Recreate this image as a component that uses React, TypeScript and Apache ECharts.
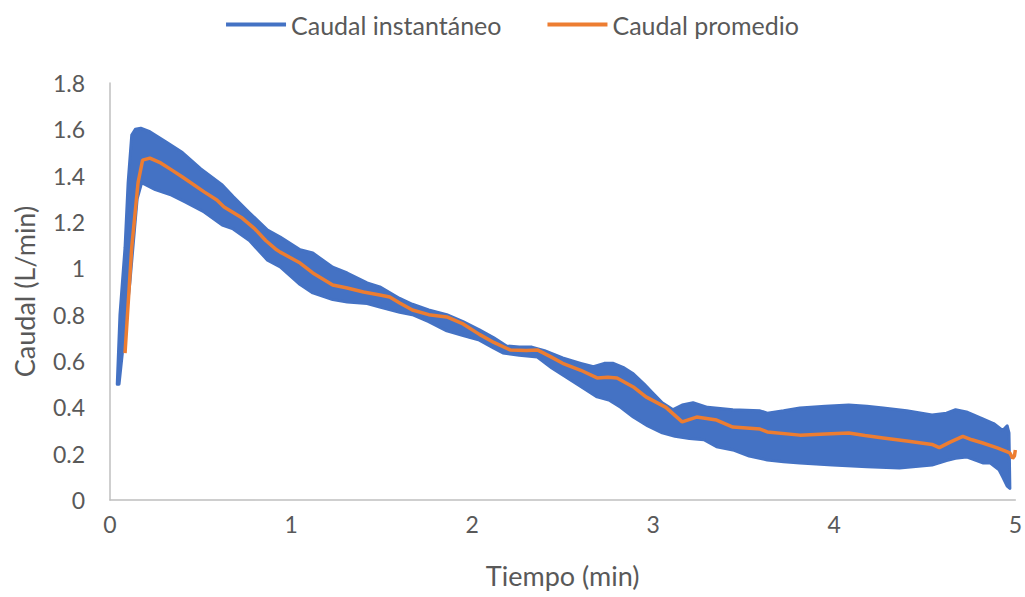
import React, { useEffect, useRef } from "react";
import * as echarts from "echarts";

// Upper envelope of the instantaneous flow band [time (min), flow (L/min)]
const bandUpper: number[][] = [
  [0.04, 0.5], [0.055, 0.8], [0.083, 1.09], [0.1, 1.37], [0.12, 1.575], [0.14, 1.6],
  [0.17, 1.605], [0.22, 1.59], [0.31, 1.545], [0.4, 1.5], [0.5, 1.43], [0.62, 1.36],
  [0.68, 1.31], [0.77, 1.24], [0.87, 1.165], [0.94, 1.135], [1.05, 1.08], [1.12, 1.066],
  [1.23, 1.005], [1.31, 0.98], [1.42, 0.937], [1.49, 0.92], [1.6, 0.87], [1.67, 0.845],
  [1.76, 0.82], [1.86, 0.8], [1.95, 0.77], [2.04, 0.735], [2.12, 0.7], [2.19, 0.665],
  [2.26, 0.66], [2.33, 0.66], [2.4, 0.645], [2.5, 0.613], [2.6, 0.59], [2.67, 0.575],
  [2.73, 0.59], [2.78, 0.59], [2.84, 0.57], [2.89, 0.545], [2.95, 0.5], [3.0, 0.46],
  [3.05, 0.42], [3.11, 0.39], [3.16, 0.41], [3.22, 0.42], [3.3, 0.4], [3.44, 0.39],
  [3.59, 0.385], [3.63, 0.375], [3.72, 0.385], [3.81, 0.397], [3.95, 0.405], [4.08, 0.41],
  [4.18, 0.405], [4.27, 0.397], [4.4, 0.385], [4.54, 0.367], [4.62, 0.375], [4.67, 0.39],
  [4.73, 0.38], [4.82, 0.35], [4.88, 0.33], [4.93, 0.3], [4.955, 0.32], [4.965, 0.29],
  [4.97, 0.05],
];

// Lower envelope of the instantaneous flow band
const bandLower: number[][] = [
  [0.04, 0.5], [0.05, 0.5], [0.08, 0.72], [0.11, 0.94], [0.15, 1.3], [0.175, 1.37],
  [0.25, 1.34], [0.34, 1.316], [0.42, 1.285], [0.52, 1.243], [0.62, 1.187], [0.68, 1.17],
  [0.77, 1.12], [0.87, 1.035], [0.94, 1.006], [1.05, 0.93], [1.12, 0.894], [1.23, 0.865],
  [1.31, 0.855], [1.42, 0.848], [1.49, 0.833], [1.6, 0.81], [1.67, 0.8], [1.76, 0.77],
  [1.86, 0.73], [1.95, 0.71], [2.04, 0.69], [2.12, 0.655], [2.17, 0.635], [2.26, 0.625],
  [2.36, 0.617], [2.44, 0.57], [2.52, 0.53], [2.6, 0.49], [2.69, 0.445], [2.76, 0.43],
  [2.82, 0.4], [2.89, 0.358], [2.97, 0.32], [3.05, 0.29], [3.12, 0.275], [3.2, 0.265],
  [3.28, 0.26], [3.35, 0.23], [3.44, 0.216], [3.53, 0.19], [3.63, 0.173], [3.72, 0.165],
  [3.81, 0.16], [3.99, 0.151], [4.18, 0.143], [4.36, 0.138], [4.54, 0.151], [4.62, 0.17],
  [4.67, 0.18], [4.73, 0.186], [4.82, 0.16], [4.86, 0.16], [4.91, 0.13], [4.93, 0.1],
  [4.955, 0.06], [4.97, 0.05],
];

// Average flow
const promedio: number[][] = [
  [0.083, 0.634], [0.12, 1.09], [0.155, 1.37], [0.18, 1.467], [0.22, 1.476], [0.28, 1.455],
  [0.34, 1.425], [0.4, 1.394], [0.52, 1.33], [0.59, 1.295], [0.63, 1.265], [0.73, 1.217],
  [0.8, 1.17], [0.86, 1.12], [0.92, 1.08], [0.94, 1.07], [1.05, 1.023], [1.12, 0.98],
  [1.23, 0.928], [1.31, 0.915], [1.4, 0.898], [1.49, 0.885], [1.545, 0.876], [1.6, 0.85],
  [1.67, 0.82], [1.76, 0.8], [1.86, 0.79], [1.95, 0.76], [2.04, 0.715], [2.12, 0.68],
  [2.21, 0.648], [2.3, 0.645], [2.36, 0.648], [2.43, 0.62], [2.5, 0.59], [2.6, 0.56],
  [2.69, 0.527], [2.75, 0.53], [2.8, 0.527], [2.89, 0.488], [2.96, 0.445], [3.07, 0.4],
  [3.16, 0.337], [3.24, 0.358], [3.35, 0.345], [3.44, 0.315], [3.59, 0.306], [3.63, 0.294],
  [3.81, 0.28], [3.95, 0.285], [4.08, 0.289], [4.17, 0.278], [4.27, 0.268], [4.4, 0.255],
  [4.54, 0.24], [4.58, 0.226], [4.64, 0.25], [4.71, 0.275], [4.76, 0.26], [4.82, 0.246],
  [4.9, 0.225], [4.97, 0.203], [4.985, 0.18], [4.995, 0.19], [5.0, 0.216],
];

const seriesNames = ["Caudal instantáneo", "Caudal promedio"];
const BLUE = "#4472C4";
const ORANGE = "#ED7D31";
const TEXT = "#595959";
const FONT = "Lato";

export default function App() {
  const ref = useRef<HTMLDivElement>(null);

  useEffect(() => {
    if (!ref.current) return;
    const chart = echarts.init(ref.current, undefined, { renderer: "svg" });
    const polygonData = bandUpper.concat(bandLower.slice().reverse());

    chart.setOption({
      animation: false,
      backgroundColor: "#ffffff",
      textStyle: { fontFamily: FONT },
      legend: {
        top: 7,
        left: "center",
        itemWidth: 60,
        itemHeight: 4,
        itemGap: 46,
        textStyle: { color: TEXT, fontSize: 25, fontFamily: FONT },
        data: [
          { name: seriesNames[0], icon: "rect", itemStyle: { color: BLUE } },
          { name: seriesNames[1], icon: "rect", itemStyle: { color: ORANGE } },
        ],
      },
      grid: { left: 110, right: 9, top: 83, bottom: 97, containLabel: false },
      xAxis: {
        type: "value",
        min: 0,
        max: 5,
        interval: 1,
        name: "Tiempo (min)",
        nameLocation: "middle",
        nameGap: 62,
        nameTextStyle: { color: TEXT, fontSize: 27, fontFamily: FONT },
        axisLine: { show: true, lineStyle: { color: "#BFBFBF", width: 1.5 } },
        axisTick: { show: false },
        splitLine: { show: false },
        axisLabel: { color: TEXT, fontSize: 23, margin: 12, fontFamily: FONT },
      },
      yAxis: {
        type: "value",
        min: 0,
        max: 1.8,
        interval: 0.2,
        name: "Caudal (L/min)",
        nameLocation: "middle",
        nameGap: 72,
        nameTextStyle: { color: TEXT, fontSize: 27, fontFamily: FONT },
        axisLine: { show: true, lineStyle: { color: "#BFBFBF", width: 1.5 } },
        axisTick: { show: false },
        splitLine: { show: false },
        axisLabel: {
          color: TEXT,
          fontSize: 23,
          margin: 25,
          fontFamily: FONT,
          formatter: (v: number) => String(Number(v.toFixed(1))),
        },
      },
      series: [
        {
          name: seriesNames[0],
          type: "custom",
          itemStyle: { color: BLUE },
          data: polygonData,
          encode: { x: 0, y: 1 },
          renderItem: (params: any, api: any) => {
            if (params.dataIndex !== 0) return null;
            const pts = polygonData.map((p) => api.coord(p));
            return {
              type: "polygon",
              shape: { points: pts },
              style: { fill: BLUE, stroke: BLUE, lineWidth: 3, lineJoin: "round" },
            };
          },
          z: 2,
        },
        {
          name: seriesNames[1],
          type: "line",
          data: promedio,
          showSymbol: false,
          symbol: "none",
          lineStyle: { color: ORANGE, width: 3.5 },
          itemStyle: { color: ORANGE },
          z: 3,
        },
      ],
    });
    return () => chart.dispose();
  }, []);

  return (
    <div
      ref={ref}
      style={{ position: "fixed", left: 0, top: 0, width: 1025, height: 597, background: "#fff" }}
    />
  );
}
